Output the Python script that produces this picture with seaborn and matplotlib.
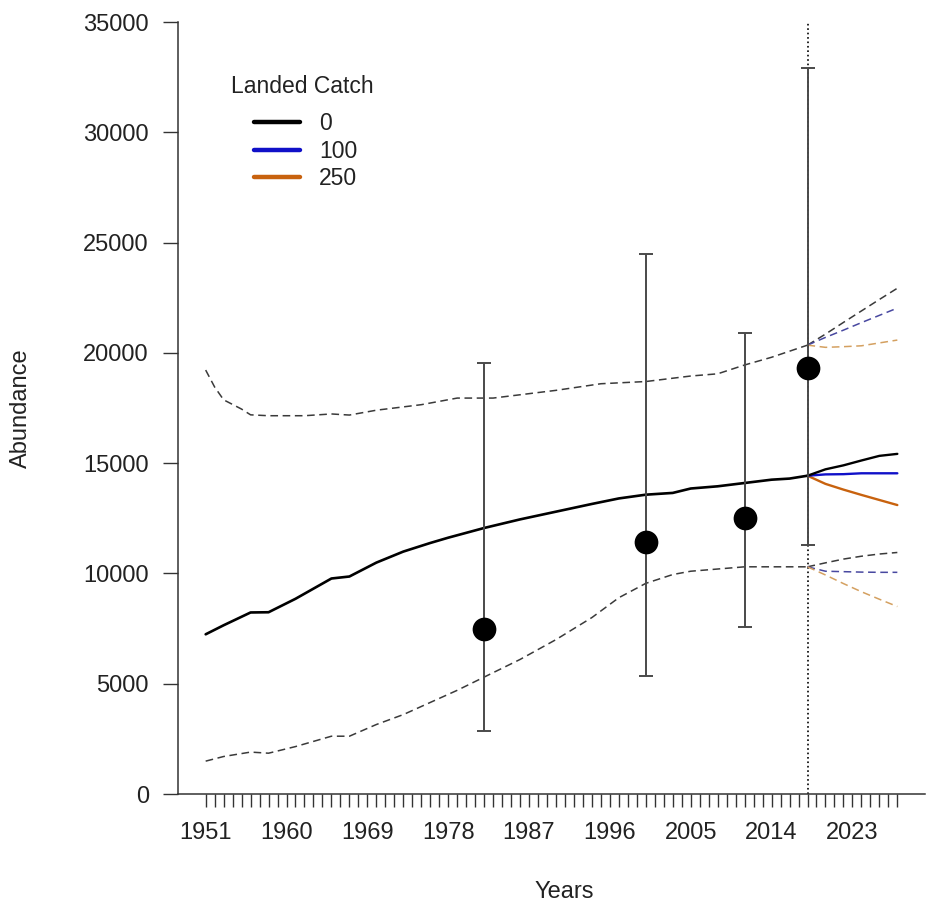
import matplotlib
matplotlib.use("Agg")
import matplotlib.pyplot as plt
from matplotlib.lines import Line2D
import pandas as pd
import seaborn as sns

# model trajectory (historical, no catch)
hist_years = [1951, 1953, 1956, 1958, 1961, 1965, 1967, 1970, 1973, 1976, 1978,
              1982, 1986, 1990, 1994, 1997, 2000, 2003, 2005, 2008, 2011, 2014, 2016, 2018]
hist_abund = [7240, 7650, 8230, 8240, 8850, 9770, 9860, 10490, 10990, 11380, 11620,
              12060, 12450, 12800, 13150, 13400, 13570, 13650, 13850, 13950, 14100, 14250, 14300, 14430]

upper_years = [1951, 1952, 1953, 1955, 1956, 1958, 1962, 1965, 1967, 1970, 1975, 1979,
               1983, 1986, 1990, 1995, 2000, 2005, 2008, 2011, 2014, 2018]
upper_abund = [19220, 18450, 17870, 17450, 17190, 17150, 17150, 17230, 17180, 17400, 17650, 17950,
               17950, 18100, 18300, 18600, 18700, 18950, 19050, 19450, 19800, 20350]

lower_years = [1951, 1953, 1956, 1958, 1961, 1965, 1967, 1970, 1973, 1976, 1979, 1982,
               1986, 1990, 1994, 1997, 2000, 2003, 2005, 2008, 2011, 2018]
lower_abund = [1490, 1700, 1900, 1850, 2150, 2620, 2620, 3150, 3600, 4150, 4700, 5300,
               6100, 7000, 8000, 8900, 9550, 9950, 10100, 10200, 10300, 10300]

# projections by landed catch
catch_levels = ["0", "100", "250"]
catch_colors = ["black", "#1010c8", "#c8620e"]
band_colors = ["#3a3a3a", "#4848a0", "#d4a060"]

proj_years = [2018, 2020, 2022, 2024, 2026, 2028]
proj_mid = {
    "0":   [14430, 14720, 14900, 15120, 15330, 15420],
    "100": [14430, 14490, 14500, 14540, 14540, 14540],
    "250": [14430, 14060, 13800, 13560, 13330, 13100],
}
proj_hi = {
    "0":   [20350, 20850, 21380, 21900, 22420, 22930],
    "100": [20350, 20700, 21030, 21370, 21700, 22030],
    "250": [20350, 20250, 20280, 20320, 20450, 20580],
}
proj_lo = {
    "0":   [10300, 10480, 10650, 10780, 10880, 10950],
    "100": [10300, 10100, 10080, 10060, 10050, 10050],
    "250": [10300, 9930, 9540, 9170, 8830, 8500],
}

# survey estimates with intervals
survey_years = [1982, 2000, 2011, 2018]
survey_est = [7480, 11420, 12510, 19310]
survey_low = [2860, 5350, 7570, 11290]
survey_high = [19540, 24460, 20900, 32910]

proj_start = 2018
all_years = list(range(1951, 2029))
label_years = list(range(1951, 2029, 9))
y_ticks = [0, 5000, 10000, 15000, 20000, 25000, 30000, 35000]

sns.set_style("ticks")
plt.rcParams["font.family"] = ["Liberation Sans", "DejaVu Sans"]
text_col = "#222222"

fig = plt.figure(figsize=(9.4, 9.05), dpi=100)
ax = fig.add_axes([178 / 940, 111 / 905, 747 / 940, 772 / 905])

dash = (0, (5, 3))
sns.lineplot(x=upper_years, y=upper_abund, ax=ax, color="#3a3a3a", lw=1.1, linestyle=dash)
sns.lineplot(x=lower_years, y=lower_abund, ax=ax, color="#3a3a3a", lw=1.1, linestyle=dash)

for lvl, col, bcol in zip(catch_levels, catch_colors, band_colors):
    sns.lineplot(x=proj_years, y=proj_hi[lvl], ax=ax, color=bcol, lw=1.1, linestyle=dash)
    sns.lineplot(x=proj_years, y=proj_lo[lvl], ax=ax, color=bcol, lw=1.1, linestyle=dash)
for lvl, col in list(zip(catch_levels, catch_colors))[::-1]:
    sns.lineplot(x=proj_years, y=proj_mid[lvl], ax=ax, color=col, lw=1.7)

sns.lineplot(x=hist_years, y=hist_abund, ax=ax, color="black", lw=1.9)

ax.axvline(proj_start, color="black", lw=1.2, linestyle=":", zorder=1)

survey = pd.DataFrame({"year": survey_years, "est": survey_est,
                       "low": survey_low, "high": survey_high})
ax.errorbar(survey["year"], survey["est"],
            yerr=[survey["est"] - survey["low"], survey["high"] - survey["est"]],
            fmt="none", ecolor="#4a4a4a", elinewidth=1.4, capsize=5, capthick=1.4, zorder=3)
sns.scatterplot(data=survey, x="year", y="est", ax=ax, color="black", s=250,
                edgecolor="black", zorder=4)

ax.set_xlim(1947.92, 2031.08)
ax.set_ylim(0, 35000)
ax.set_xticks(all_years)
ax.set_xticklabels([str(y) if y in label_years else "" for y in all_years])
ax.set_yticks(y_ticks)
ax.set_yticklabels([str(v) for v in y_ticks])
ax.tick_params(axis="x", length=9, width=1, color="#333333", pad=11,
               labelsize=17, labelcolor=text_col)
ax.tick_params(axis="y", length=11, width=1, color="#333333", pad=10,
               labelsize=17, labelcolor=text_col)

sns.despine(ax=ax)
for side in ["left", "bottom"]:
    ax.spines[side].set_color("#333333")
    ax.spines[side].set_linewidth(1.1)

ax.set_xlabel("Years", fontsize=17, color=text_col)
ax.set_ylabel("Abundance", fontsize=17, color=text_col)
ax.xaxis.set_label_coords(0.517, -0.113)
ax.yaxis.set_label_coords(-0.195, 0.5)

# legend: title drawn separately so its spacing matches the original
ax.text(0.167, 0.916, "Landed Catch", transform=ax.transAxes, ha="center",
        va="center", fontsize=16.5, color=text_col)
handles = [Line2D([], [], color=c, lw=3.2) for c in catch_colors]
leg = ax.legend(handles, catch_levels, loc="upper left",
                bbox_to_anchor=(0.0737, 0.910), frameon=False, fontsize=16.5,
                handlelength=2.0, handletextpad=0.85, labelspacing=0.2)
for t in leg.get_texts():
    t.set_color(text_col)

fig.savefig("out.png", dpi=100)
